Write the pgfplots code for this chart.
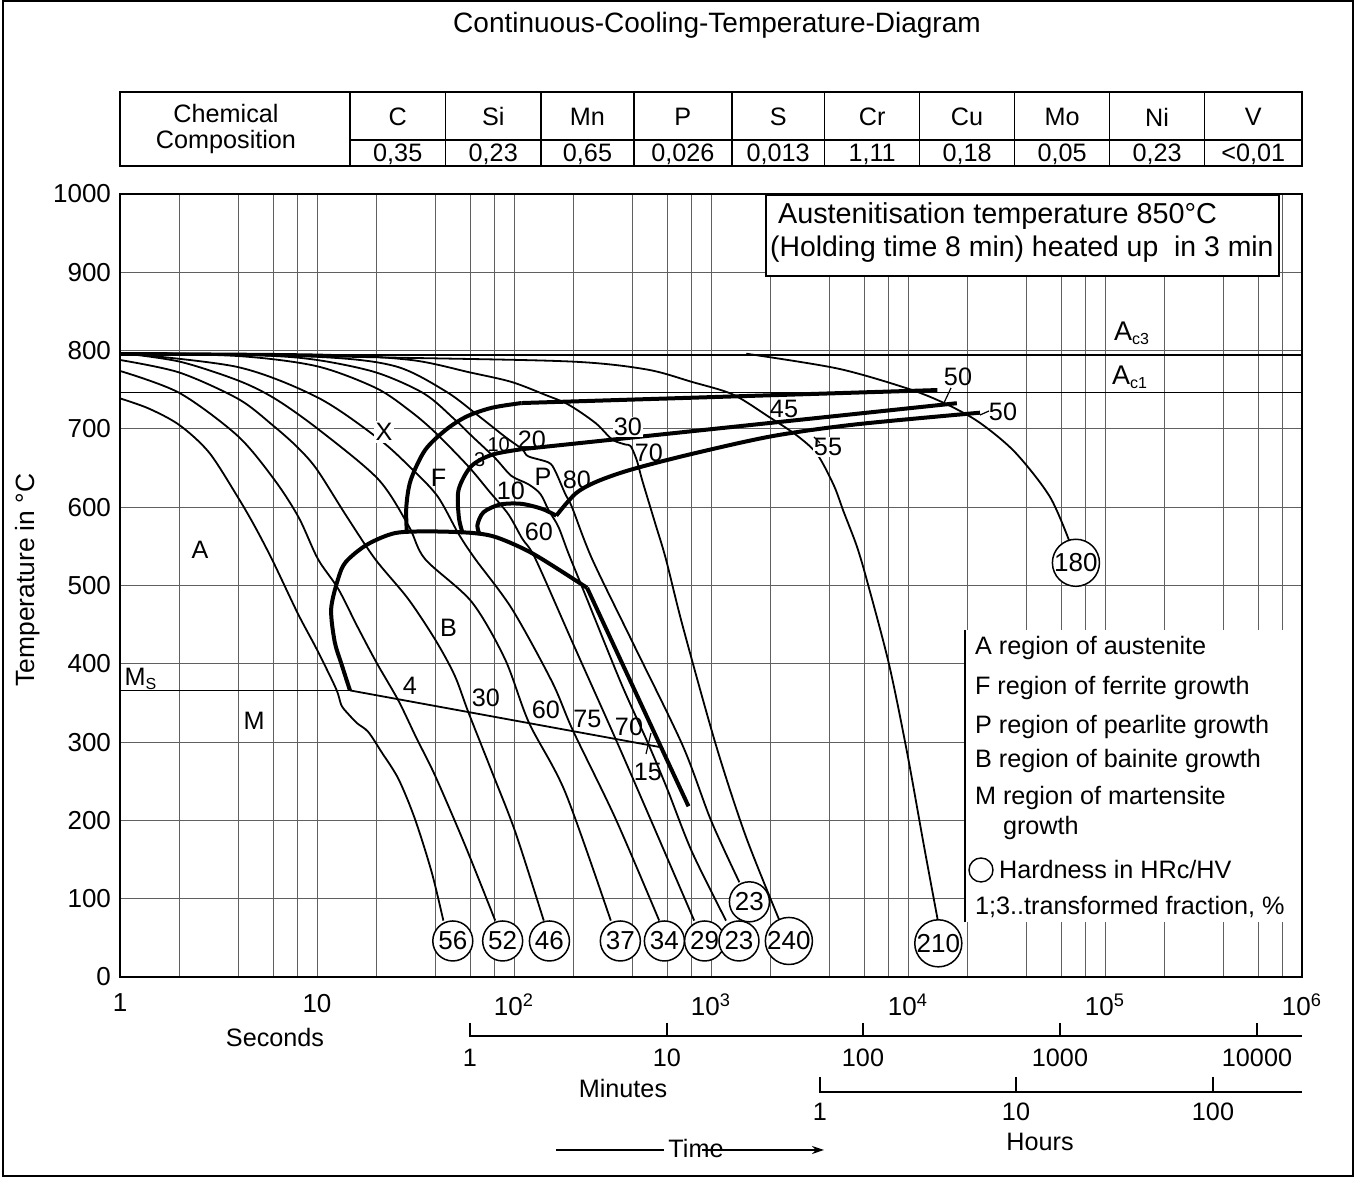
\documentclass[border=0pt]{standalone}
\usepackage{fontspec}
\setmainfont{Liberation Sans}
\usepackage{pgfplots}
\pgfplotsset{compat=1.18}
\usetikzlibrary{arrows.meta}
\begin{document}
\begin{tikzpicture}[font=\fontsize{12.6}{15}\selectfont]
\useasboundingbox (0,0) rectangle (678.5pt,588.5pt);
\begin{axis}[
  at={(60pt,100pt)}, anchor=south west,
  scale only axis, width=591pt, height=391.5pt,
  xmode=log, xmin=1, xmax=1e6, ymin=0, ymax=1000,
  clip=false,
  axis line style={black, line width=0.7pt},
  xtick={1,10,100,1000,10000,100000,1000000},
  xticklabels={1,10,10\textsuperscript{2},10\textsuperscript{3},10\textsuperscript{4},10\textsuperscript{5},10\textsuperscript{6}},
  minor xtick={2,4,6,8,20,40,60,80,200,400,600,800,2000,4000,6000,8000,20000,40000,60000,80000,200000,400000,600000,800000},
  ytick={0,100,200,300,400,500,600,700,800,900,1000},
  yticklabels={0,100,200,300,400,500,600,700,800,900,1000},
  grid=both,
  major grid style={gray!75!black, line width=0.45pt},
  minor grid style={gray!75!black, line width=0.45pt},
  major tick length=0pt, minor tick length=0pt,
  tick label style={font=\fontsize{13}{15}\selectfont},
  xticklabel style={yshift=-5pt},
  yticklabel style={xshift=-1pt},
  thin/.style={black, line width=0.9pt, smooth, tension=0.5, mark=none},
  thick/.style={black, line width=2pt, smooth, tension=0.5, mark=none},
]
% Ac lines and Ms
\addplot[black, line width=0.9pt] coordinates {(1,794) (1e6,794)};
\addplot[black, line width=0.9pt] coordinates {(1,746.5) (1e6,746.5)};
\addplot[black, line width=0.9pt] coordinates {(1,366) (14.7,366)};
\addplot[black, line width=0.9pt] coordinates {(14.7,366) (568,293)};
% cooling curves
\addplot[thin] coordinates {(1,739) (1.4,726) (2,705) (2.83,670) (3.96,613) (4.87,574) (6,530) (8,464) (10,418) (12.5,368) (13.3,347) (14.4,336) (16,324) (18.2,313) (21.3,287) (25.9,253) (31.4,202) (38.2,134) (43.8,72)};
\addplot[thin] coordinates {(1,774) (2,746) (3.96,691) (6.08,635) (8.07,587) (10.1,534) (12.8,496) (16,448) (20,402) (25.9,353) (32,305) (39.8,257) (56.5,168) (80.3,72)};
\addplot[thin] coordinates {(1,788) (2,772) (4,738) (6,704) (8,676) (10,648) (14,590) (19.7,534) (29,483) (40,430) (50,385) (58.7,338) (77.3,262) (101.6,185) (141.6,72)};
\addplot[thin] coordinates {(1,797) (2,786) (3.96,762) (6.08,739) (10.1,700) (20.4,636) (29.2,576) (35.3,534) (61,479) (90,406) (119,325) (182,236) (310,72)};
\addplot[thin] coordinates {(1,797) (3.96,779) (10.1,740) (20.4,688) (30,650) (40.9,614) (52.3,566) (63.5,534) (97.7,470) (156,377) (199,315) (328,202) (546,72)};
\addplot[thin] coordinates {(1,797) (4,793) (10,780) (20,752) (30,722) (40,695) (58.7,652) (75,620) (93.6,591) (110,560) (128.5,534) (200,425) (328,304) (500,198) (822,72)};
\addplot[thin] coordinates {(1,797) (5,794) (10,788) (20,772) (35,745) (50,712) (61,691) (80,663) (97,640) (118,629.5) (136,617) (150,596) (168,575) (189,541) (231,487) (350,375) (480,298) (600,240) (800,160) (1192,72)};
\addplot[thin] coordinates {(1,797) (10,792) (25,780) (45,748) (65,718) (90,690) (110,674) (118,665) (150,657) (162,646) (182,617) (197,600) (249,534) (399,428) (717,296) (1000,200) (1393,121)};
\addplot[thin] coordinates {(1,797) (10,795) (30,788) (60,772) (97,760) (144,743.5) (189,731) (259,707.6) (315,686.5) (368,680) (391,678) (420,660) (448,634) (520,580) (590,534) (717,449) (1060,296) (1500,180) (2228,72)};
\addplot[thin] coordinates {(1,797) (25,791) (195,786) (469,776) (800,760) (1290,744) (1950,716) (2714,692) (3450,668) (4200,628) (4700,595) (5500,550) (6210,505) (8000,400) (9890,287) (12000,170) (14200,71)};
\addplot[thin] coordinates {(1510,796) (4410,777) (10100,751) (15700,731.5) (23100,708) (35000,670) (52600,613) (67000,552)};
% transformation curves
\addplot[thick] coordinates {(28.6,566) (28.4,600) (29.9,634.5) (35.4,673) (45.2,699) (57.7,716) (77.3,727) (109,733)};
\addplot[thick, smooth=false] coordinates {(109,733) (14100,749.6)};
\addplot[thick] coordinates {(55,566) (52.5,587) (52.3,622) (60.5,652) (77.3,667) (109,674)};
\addplot[thick, smooth=false] coordinates {(109,674) (17700,732.8)};
\addplot[thick] coordinates {(67,565) (65.2,577) (70,593.5) (85,603.4) (109,604.3) (139,597.8) (164,589.2)};
\addplot[thick] coordinates {(164,589.2) (205,617.2) (261,632.3) (386,647.4) (763,666.8) (2024,690.5) (5370,705.6) (23200,720.7)};
\addplot[thick] coordinates {(14.7,366) (13.3,400) (12.3,428) (11.8,470) (12.8,508.5) (14,530) (17.9,552) (25,567) (38.7,569) (62,567) (82.6,561) (126,540) (235,497)};
\addplot[thick, smooth=false] coordinates {(235,497) (769,218)};
% hardness circles
\addplot[only marks, mark=none, point meta=explicit symbolic, nodes near coords,
  nodes near coords style={circle, draw=black, line width=0.75pt, fill=white, inner sep=0pt, minimum size=20pt, anchor=center, font=\fontsize{13}{15}\selectfont}]
  table[meta=label] {
x y label
48.9 46 56
87.6 46 52
151.3 46 46
346.6 46 37
580 46 34
928 46 29
1387 46 23
1567 96 23
2485 46 240
14250 43 210
71200 529 180
};
\end{axis}
\begin{scope}[x=0.5pt,y=-0.5pt,shift={(0pt,588.5pt)}]
% frame
\draw[line width=1.2pt] (3,1) rectangle (1353,1176);
% title
\node at (717,25) {\fontsize{14}{16}\selectfont Continuous-Cooling-Temperature-Diagram};
% table
\draw[line width=0.7pt] (120,92) rectangle (1302,166);
\draw[line width=0.7pt] (350,140) -- (1302,140);
\foreach \xx in {350,445.5,541,634,731.8,824.6,919.6,1014.6,1109.6,1204.6} {\draw[line width=0.7pt] (\xx,92) -- (\xx,166);}
\node at (226,114) {Chemical};
\node at (226,142) {Composition};
\foreach \xa/\xb/\el/\va in {350/445.5/C/{0,35},445.5/541/Si/{0,23},541/634/Mn/{0,65},634/731.8/P/{0,026},731.8/824.6/S/{0,013},824.6/919.6/Cr/{1,11},919.6/1014.6/Cu/{0,18},1014.6/1109.6/Mo/{0,05},1109.6/1204.6/Ni/{0,23},1204.6/1302/V/{<0,01}} {
  \node at ({(\xa+\xb)/2},117) {\el};
  \node at ({(\xa+\xb)/2},154) {\va};
}
% austenitisation box
\draw[fill=white, line width=0.7pt] (766,195) rectangle (1279,276);
\node[anchor=west] at (771,216) {\fontsize{14.4}{16}\selectfont Austenitisation temperature 850°C};
\node[anchor=west] at (763,249) {\fontsize{14.2}{16}\selectfont (Holding time 8 min) heated up\ \ in 3 min};
% Ac labels
\node at (1132,333) {\fontsize{13.5}{15}\selectfont A\textsubscript{\fontsize{8}{9}\selectfont c3}};
\node at (1130,377) {\fontsize{13.5}{15}\selectfont A\textsubscript{\fontsize{8}{9}\selectfont c1}};
% legend box
\fill[white] (965,630) rectangle (1302,922);
\draw[line width=0.7pt] (965,630) -- (965,922);
\draw[line width=0.7pt] (1302,628) -- (1302,924);
\node[anchor=west] at (968,648) {A region of austenite};
\node[anchor=west] at (968,688) {F region of ferrite growth};
\node[anchor=west] at (968,727) {P region of pearlite growth};
\node[anchor=west] at (968,761) {B region of bainite growth};
\node[anchor=west] at (968,798) {M region of martensite};
\node[anchor=west] at (996,828) {growth};
\draw[line width=0.7pt] (981,870) circle (12);
\node[anchor=west] at (992,870) {Hardness in HRc/HV};
\node[anchor=west] at (968,907) {1;3..transformed fraction, \%};
% region labels
\node at (200,550) {A};
\node at (438.6,478) {F};
\node at (543,477) {P};
\node at (448.5,628) {B};
\node at (254,721) {M};
\node[fill=white, inner sep=1pt] at (384,432) {X};
\node at (141,679) {M\textsubscript{\fontsize{8}{9}\selectfont S}};
% fraction labels
\node[font=\fontsize{10}{12}\selectfont] at (479.6,460) {3};
\node[font=\fontsize{10}{12}\selectfont] at (498.7,445) {10};
\node at (532,440) {20};
\node at (511,491) {10};
\node[fill=white, inner sep=0.5pt] at (628,427) {30};
\node at (649,453) {70};
\node at (577,480) {80};
\node at (539,532) {60};
\node at (784,409) {45};
\node[fill=white, inner sep=0.5pt] at (828,447) {55};
\node at (958,377) {50};
\node at (1003,412) {50};
\draw[line width=0.6pt] (951,388) -- (943,405);
\draw[line width=0.6pt] (980,415) -- (989,411);
\draw[line width=0.6pt] (814,437) -- (820,443);
\node at (410,686) {4};
\node at (486,698) {30};
\node at (546,710) {60};
\node at (587.5,719) {75};
\node at (629,727) {70};
\node at (648,772) {15};
\draw[line width=0.6pt] (651,733) -- (646,754);
% axis titles
\node[rotate=90] at (28,580) {\fontsize{13.2}{15}\selectfont Temperature in °C};
\node at (275,1038) {Seconds};
% minutes axis
\draw[line width=0.7pt] (470,1023) -- (470,1036) -- (1302,1036);
\foreach \xx/\lb in {470/1,667/10,863/100,1060/1000,1257/10000} {\draw[line width=0.7pt] (\xx,1023) -- (\xx,1036); \node at (\xx,1058) {\lb};}
\node at (623,1089) {Minutes};
% hours axis
\draw[line width=0.7pt] (820,1077) -- (820,1092) -- (1302,1092);
\foreach \xx/\lb in {820/1,1016/10,1213/100} {\draw[line width=0.7pt] (\xx,1077) -- (\xx,1092); \node at (\xx,1112) {\lb};}
\node at (1040,1142) {Hours};
% time arrow
\draw[line width=0.7pt] (556,1150) -- (664,1150);
\node at (696,1149) {Time};
\draw[line width=0.7pt, -{Stealth[length=6pt,width=4pt]}] (702,1150) -- (824,1150);
\end{scope}
\end{tikzpicture}
\end{document}
